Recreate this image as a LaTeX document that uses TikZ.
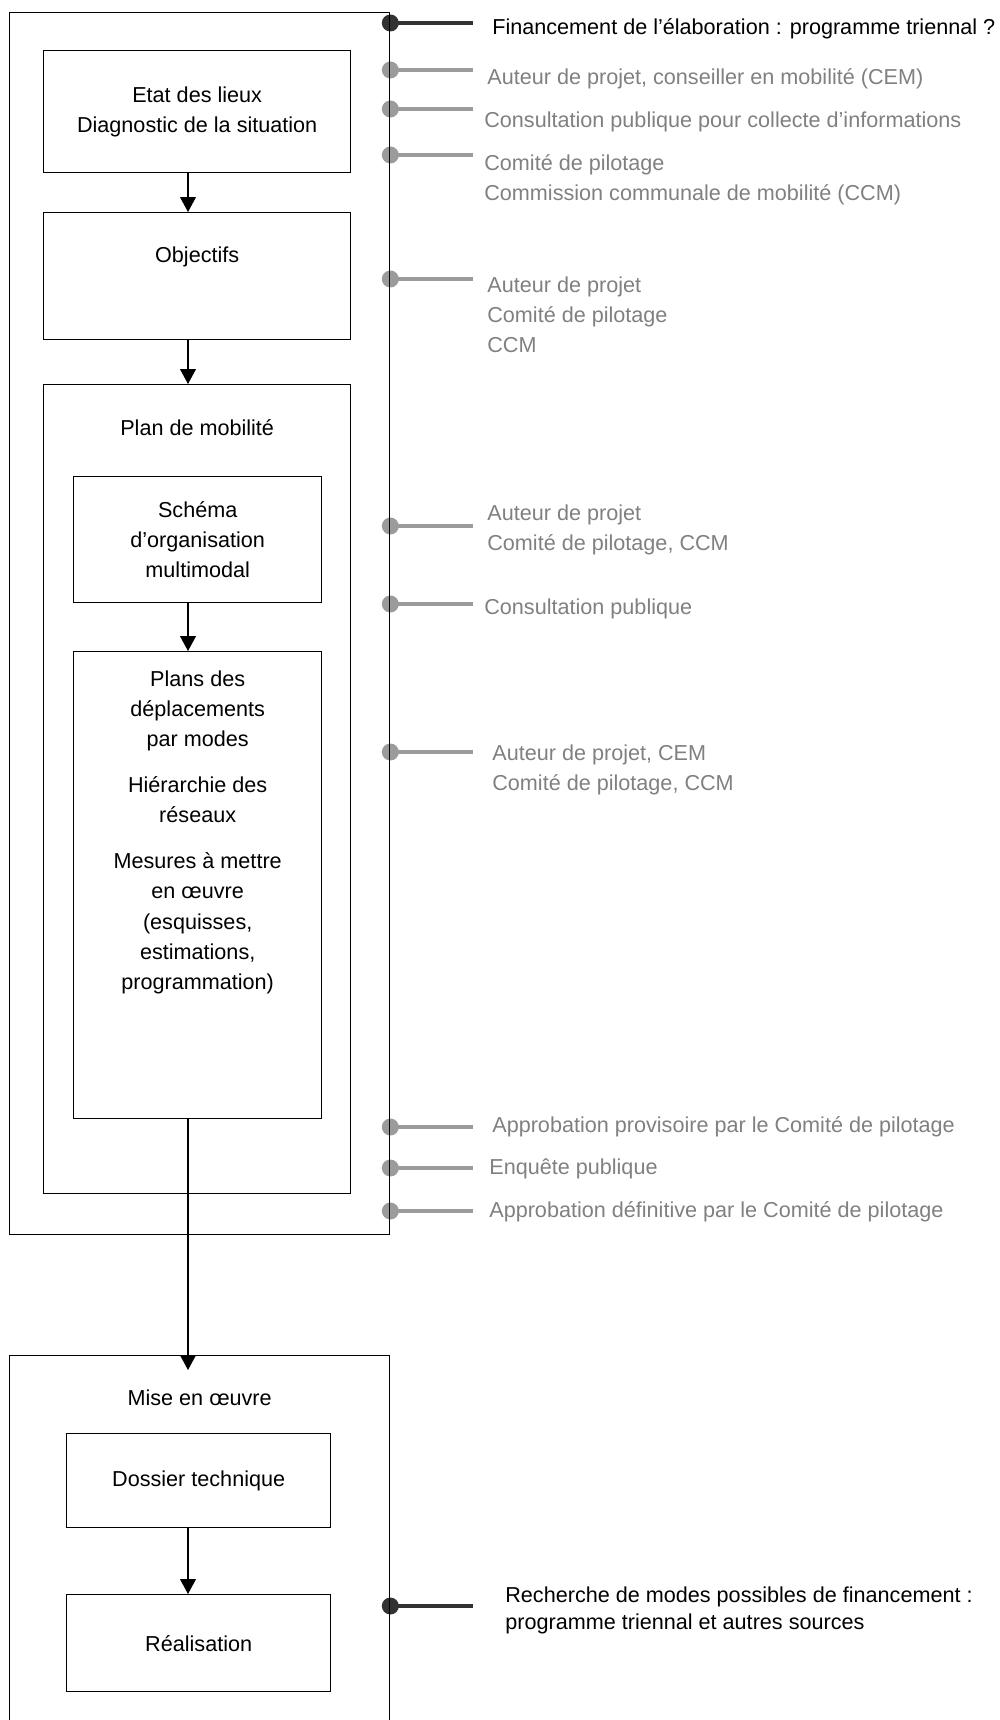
\documentclass[tikz,border=0pt]{standalone}
\usepackage{fontspec}
\setmainfont{Liberation Sans}
\usetikzlibrary{arrows.meta,backgrounds}
\definecolor{notegray}{RGB}{128,128,128}
\definecolor{tickgray}{RGB}{155,155,155}
\definecolor{tickdark}{RGB}{50,50,50}

\begin{document}
\begin{tikzpicture}[
        x=0.02cm, y=-0.02cm,
        font=\fontsize{12.3pt}{17.2pt}\selectfont,
        box/.style={draw, line width=0.8pt, inner sep=0pt, anchor=north west, align=center},
        boxtitle/.style={anchor=north, inner sep=0pt, align=center},
        flow/.style={line width=0.8pt, -{Triangle[width=9pt,length=8.5pt]}},
        note/.style={anchor=north west, inner sep=0pt, align=left, text=notegray},
        tickline/.style={tickgray, line width=2.7pt}
    ]
        \useasboundingbox (0,0) rectangle (1000,1720);
        \clip (0,0) rectangle (1000,1720);

        % elaboration of the plan
        \node[box, minimum width=7.6cm, minimum height=24.44cm] (elab) at (9,12) {};
        \node[box, minimum width=6.14cm, minimum height=2.44cm] (etat) at (43,50)
            {Etat des lieux\\Diagnostic de la situation};
        \node[box, minimum width=6.14cm, minimum height=2.54cm,
            label={[boxtitle, yshift=-0.68cm]north:Objectifs}] (obj) at (43,212) {};
        \node[box, minimum width=6.14cm, minimum height=16.18cm,
            label={[boxtitle, yshift=-0.7cm]north:Plan de mobilité}] (plan) at (43,384) {};
        \node[box, minimum width=4.96cm, minimum height=2.52cm] (schema) at (73,476)
            {Schéma\\d’organisation\\multimodal};
        \node[box, minimum width=4.96cm, minimum height=9.34cm,
            label={[boxtitle, yshift=-0.38cm]north:{Plans des\\déplacements\\par modes\\[9pt]Hiérarchie des\\réseaux\\[9pt]Mesures à mettre\\en œuvre\\(esquisses,\\estimations,\\programmation)}}] (plans) at (73,651) {};

        % implementation
        \node[box, minimum width=7.6cm, minimum height=8cm,
            label={[boxtitle, yshift=-0.68cm]north:Mise en œuvre}] (mise) at (9,1355) {};
        \node[box, minimum width=5.28cm, minimum height=1.88cm] (dossier) at (66,1433) {Dossier technique};
        \node[box, minimum width=5.28cm, minimum height=1.94cm] (real) at (66,1594) {Réalisation};

        % flow arrows
        \coordinate (spine) at (188,0);
        \draw[flow] (etat.south -| spine) -- (obj.north -| spine);
        \draw[flow] (obj.south -| spine) -- (plan.north -| spine);
        \draw[flow] (schema.south -| spine) -- (plans.north -| spine);
        \draw[flow] (plans.south -| spine) -- (spine |- mise.north) -- ++(0,15);
        \draw[flow] (dossier.south -| spine) -- (real.north -| spine);

        % actors and steps along the right edge
        \begin{scope}[on background layer]
            \coordinate (tf) at (473,23);
            \fill[tickdark] (elab.east |- tf) circle (0.17cm);
            \draw[tickline, tickdark] (elab.east |- tf) -- (tf);
            \node[note, text=black] (fin) at (492,18) {Financement de l’élaboration : programme triennal ?};

            \foreach \ty/\lx/\ly/\txt [count=\i] in {
                70/487/68/{Auteur de projet, conseiller en mobilité (CEM)},
                109/484/111/{Consultation publique pour collecte d’informations},
                155/484/154/{Comité de pilotage\\Commission communale de mobilité (CCM)},
                279/487/276/{Auteur de projet\\Comité de pilotage\\CCM},
                526/487/504/{Auteur de projet\\Comité de pilotage, CCM},
                604/484/598/{Consultation publique},
                752/492/744/{Auteur de projet, CEM\\Comité de pilotage, CCM},
                1127/492/1116/{Approbation provisoire par le Comité de pilotage},
                1168/489/1158/{Enquête publique},
                1211/489/1201/{Approbation définitive par le Comité de pilotage}} {
                \coordinate (t\i) at (473,\ty);
                \fill[tickgray] (elab.east |- t\i) circle (0.17cm);
                \draw[tickline] (elab.east |- t\i) -- (t\i);
                \node[note] (n\i) at (\lx,\ly) {\txt};
            }

            \coordinate (tr) at (473,1606);
            \fill[tickdark] (mise.east |- tr) circle (0.17cm);
            \draw[tickline, tickdark] (mise.east |- tr) -- (tr);
            \node[note, text=black, font=\fontsize{12.3pt}{15.9pt}\selectfont] (rech) at (505,1586)
                {Recherche de modes possibles de financement :\\programme triennal et autres sources};
        \end{scope}
    \end{tikzpicture}
\end{document}
